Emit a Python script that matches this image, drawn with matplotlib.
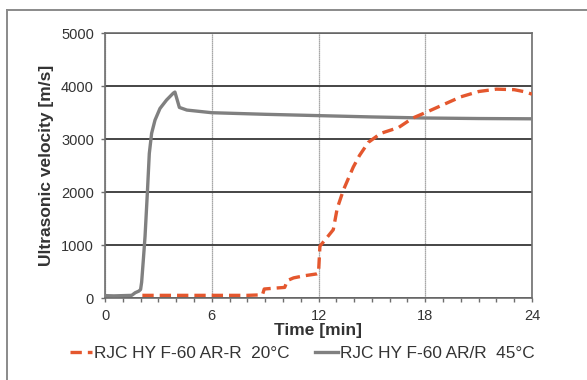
import matplotlib
matplotlib.use("Agg")
import matplotlib.pyplot as plt
from matplotlib.lines import Line2D
from matplotlib.ticker import MultipleLocator

plt.rcParams['font.family'] = ['Liberation Sans', 'DejaVu Sans']

# 20 °C series (red dashed)
t_20 = [2.1, 4.0, 6.0, 8.0, 8.85, 8.95, 9.5, 10.1, 10.25, 10.6, 11.2, 11.9, 12.0, 12.08,
        12.4, 12.83, 13.05, 13.4, 13.95, 14.3, 14.8, 15.5, 16.5, 17.3, 18.0, 19.0,
        20.0, 21.0, 22.0, 23.0, 23.6, 24.0]
v_20 = [50, 50, 50, 50, 60, 170, 185, 200, 330, 380, 420, 455, 470, 980,
        1110, 1290, 1690, 2040, 2470, 2690, 2940, 3110, 3220, 3400, 3500, 3650,
        3800, 3900, 3945, 3935, 3895, 3850]

# 45 °C series (gray solid)
t_45 = [0.0, 0.5, 1.0, 1.5, 1.7, 1.9, 2.0, 2.06, 2.15, 2.25, 2.38, 2.49, 2.62, 2.81,
        3.09, 3.46, 3.84, 3.93, 4.06, 4.18, 4.6, 6.0, 9.0, 12.0, 15.0, 18.0, 21.0, 24.0]
v_45 = [45, 40, 45, 50, 100, 130, 160, 300, 700, 1160, 1980, 2730, 3110, 3360,
        3580, 3740, 3870, 3890, 3740, 3600, 3550, 3500, 3470, 3445, 3420, 3400, 3390, 3385]

x_ticks = [0, 6, 12, 18, 24]
y_ticks = [0, 1000, 2000, 3000, 4000, 5000]
label_20 = "RJC HY F-60 AR-R  20°C"
label_45 = "RJC HY F-60 AR/R  45°C"

fig = plt.figure(figsize=(5.87, 3.8), dpi=100)
ax = fig.add_axes([105/587, (380-298)/380, 427/587, (298-33.3)/380])

red = '#E4572E'
gray = '#808080'

ax.plot(t_20, v_20, color=red, lw=2.4, linestyle=(0, (3.4, 1.8)), label=label_20, zorder=4)
ax.plot(t_45, v_45, color=gray, lw=2.4, label=label_45, zorder=3)

ax.set_xlim(0, 24)
ax.set_ylim(0, 5000)
ax.set_xticks(x_ticks)
ax.set_yticks(y_ticks)
ax.xaxis.set_minor_locator(MultipleLocator(1))

ax.yaxis.grid(True, color='#454545', lw=1.4)
ax.xaxis.grid(True, color='#8a8a8a', lw=0.9, linestyle=(0, (1, 0.6)))
ax.set_axisbelow(True)

for s in ax.spines.values():
    s.set_color('#6e6e6e')
    s.set_linewidth(1.2)

ax.tick_params(axis='both', which='major', direction='out', length=3, width=1,
               color='#6e6e6e', labelsize=10.5, labelcolor='#333333')
ax.tick_params(axis='y', pad=5)
ax.tick_params(axis='x', pad=5)
ax.tick_params(axis='x', which='minor', direction='out', length=3, width=1, color='#6e6e6e')

ax.set_xlabel('Time [min]', fontsize=12.5, fontweight='bold', color='#333333', labelpad=0)
ax.set_ylabel('Ultrasonic velocity [m/s]', fontsize=12.5, fontweight='bold', color='#333333', labelpad=5)

leg = fig.legend(loc='center', bbox_to_anchor=(302/587, 1 - 353/380), ncol=2, frameon=False,
                 fontsize=12.4, handlelength=1.3, handletextpad=0.12, columnspacing=1.5,
                 labelcolor='#333333')

# outer frame (top and left)
fig.add_artist(Line2D([7/587, 1.0], [1 - 10/380, 1 - 10/380], color='#8a8a8a', lw=1.4,
                      transform=fig.transFigure))
fig.add_artist(Line2D([7/587, 7/587], [0.0, 1 - 10/380], color='#8a8a8a', lw=1.4,
                      transform=fig.transFigure))

fig.savefig('out.png', dpi=100)
